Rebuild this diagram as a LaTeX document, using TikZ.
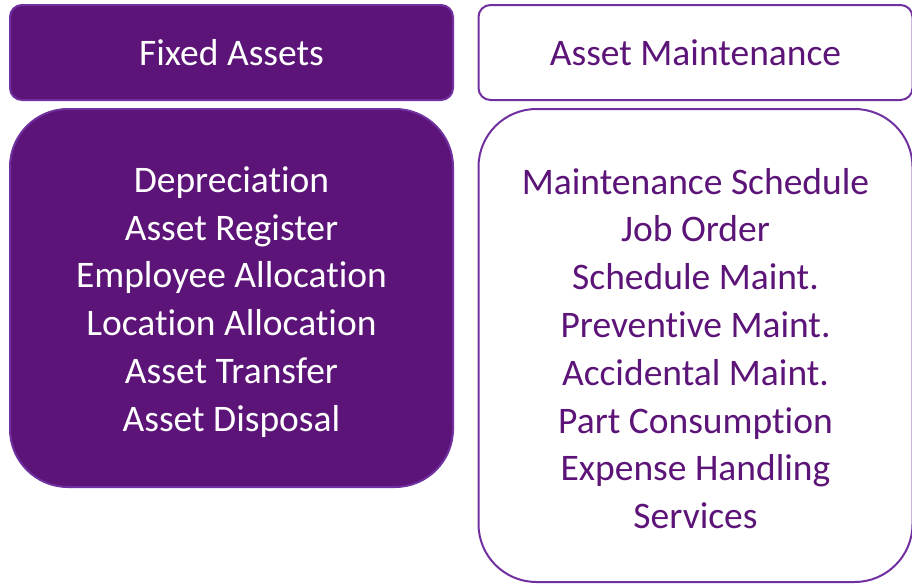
\documentclass[tikz,border=0pt]{standalone}
\usepackage{fontspec}
\setmainfont[Ligatures=NoCommon]{Carlito}
\definecolor{plum}{HTML}{5C1478}
\definecolor{plumline}{HTML}{7030A0}
\tikzset{
  boxtext/.style={font=\fontsize{37.5pt}{47.8pt}\selectfont, align=center},
  headbox/.style={boxtext, draw=plumline, line width=2pt, rounded corners=12pt,
    minimum width=443pt, minimum height=95pt, inner sep=0pt},
  bodybox/.style={draw=plumline, line width=2pt, rounded corners=58pt,
    minimum width=443pt, inner sep=0pt},
  filled/.style={fill=plum, text=white},
  plain/.style={fill=white, text=plum}
}
\begin{document}
\begin{tikzpicture}[x=1pt,y=-1pt]
  \useasboundingbox (0,0) rectangle (912,584);
  % headers
  \node[headbox,filled] (fixed) at (231.5,52.5) {Fixed Assets};
  \node[headbox,plain,minimum width=434pt] (maint) at (695.5,52.5) {Asset Maintenance};
  % lists
  \node[bodybox,filled,minimum height=378pt] (fixedlist) at (231.5,298) {};
  \node[boxtext,text=white] (fixeditems) at ([yshift=-4pt]fixedlist.center)
    {Depreciation\\Asset Register\\Employee Allocation\\Location Allocation\\Asset Transfer\\Asset Disposal};
  \node[bodybox,plain,minimum width=434pt,minimum height=473pt] (maintlist) at (695.5,345.5) {};
  \node[boxtext,text=plum] (maintitems) at ([yshift=-3pt]maintlist.center)
    {Maintenance Schedule\\Job Order\\Schedule Maint.\\Preventive Maint.\\Accidental Maint.\\Part Consumption\\Expense Handling\\Services};
\end{tikzpicture}
\end{document}
